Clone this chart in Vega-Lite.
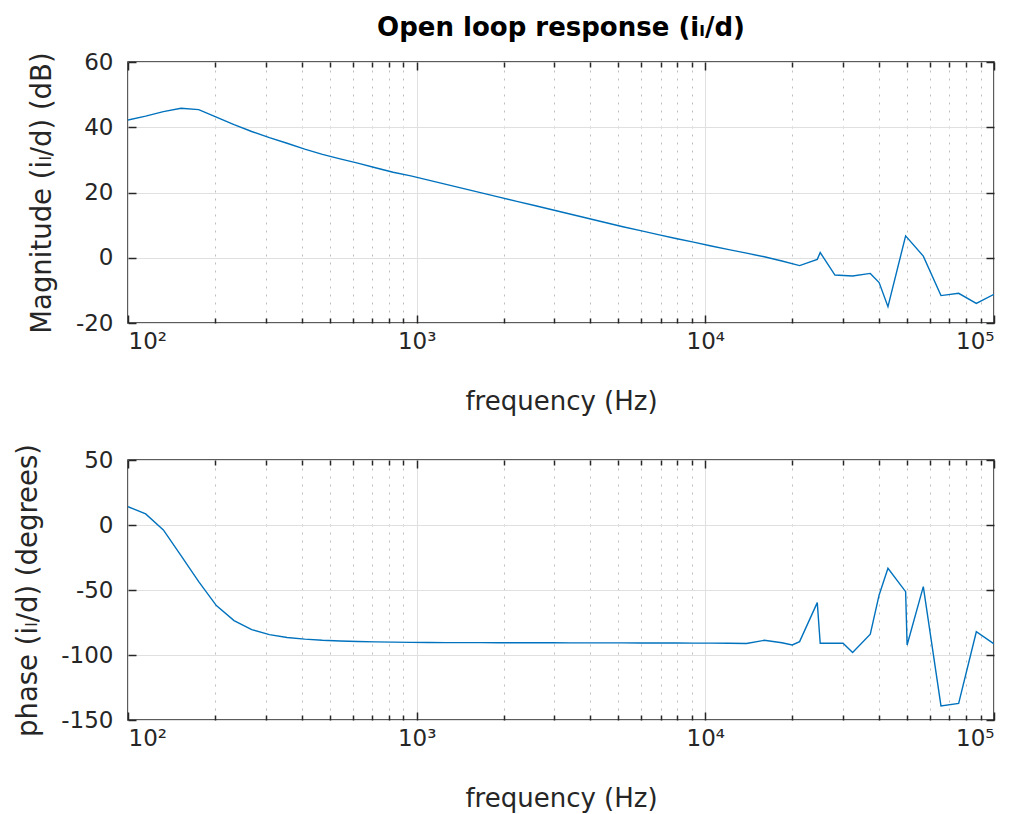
{
  "$schema": "https://vega.github.io/schema/vega-lite/v6.json",
  "autosize": {"type": "pad"},
  "padding": {"left": 14, "top": 15, "right": 5, "bottom": 2},
  "background": "white",
  "title": {"text": "Open loop response (i\u2097/d)", "fontSize": 26, "fontWeight": "bold", "font": "DejaVu Sans", "color": "#000000", "anchor": "middle", "frame": "group", "offset": 9},
  "bounds": "flush",
  "spacing": 137,
  "config": {
    "font": "DejaVu Sans",
    "view": {"stroke": "#262626", "strokeWidth": 1.5},
    "axis": {
      "labelFont": "DejaVu Sans", "labelFontSize": 23, "labelColor": "#262626",
      "titleFont": "DejaVu Sans", "titleFontSize": 26, "titleFontWeight": "normal", "titleColor": "#262626",
      "domain": false, "tickColor": "#262626", "tickWidth": 1.5,
      "gridColor": "#e0e0e0", "gridWidth": 1
    },
    "axisLeft": {"titleFontSize": 27.5}
  },
  "vconcat": [
    {
      "width": 866, "height": 261,
      "data": {"values": [
        {"f": 100, "mag": 42.2}, {"f": 115.14, "mag": 43.4}, {"f": 132.57, "mag": 44.8}, {"f": 152.65, "mag": 45.8},
        {"f": 175.75, "mag": 45.4}, {"f": 202.36, "mag": 43.1}, {"f": 232.99, "mag": 40.8}, {"f": 268.27, "mag": 38.7},
        {"f": 308.89, "mag": 36.8}, {"f": 355.65, "mag": 35.1}, {"f": 409.49, "mag": 33.3}, {"f": 471.49, "mag": 31.7},
        {"f": 542.86, "mag": 30.3}, {"f": 625.06, "mag": 29.0}, {"f": 719.69, "mag": 27.6}, {"f": 828.64, "mag": 26.2},
        {"f": 954.09, "mag": 25.1}, {"f": 1098.5, "mag": 23.8}, {"f": 1264.9, "mag": 22.5}, {"f": 1456.3, "mag": 21.2},
        {"f": 1676.8, "mag": 19.9}, {"f": 1930.7, "mag": 18.6}, {"f": 2223.0, "mag": 17.3}, {"f": 2559.5, "mag": 16.0},
        {"f": 2947.1, "mag": 14.7}, {"f": 3393.2, "mag": 13.4}, {"f": 3906.9, "mag": 12.1}, {"f": 4498.4, "mag": 10.8},
        {"f": 5179.5, "mag": 9.5}, {"f": 5963.6, "mag": 8.3}, {"f": 6866.5, "mag": 7.1}, {"f": 7906.0, "mag": 5.9},
        {"f": 9103.0, "mag": 4.8}, {"f": 10481, "mag": 3.6}, {"f": 12068, "mag": 2.5}, {"f": 13895, "mag": 1.4},
        {"f": 15999, "mag": 0.3}, {"f": 18421, "mag": -1.0}, {"f": 21210, "mag": -2.4}, {"f": 24421, "mag": -0.5},
        {"f": 25000, "mag": 1.6}, {"f": 28118, "mag": -5.3}, {"f": 32375, "mag": -5.6}, {"f": 37276, "mag": -4.8},
        {"f": 40000, "mag": -7.6}, {"f": 42919, "mag": -15.0}, {"f": 49417, "mag": 6.7}, {"f": 56899, "mag": 0.5},
        {"f": 65513, "mag": -11.6}, {"f": 75431, "mag": -10.9}, {"f": 86851, "mag": -14.0}, {"f": 100000, "mag": -11.2}
      ]},
      "layer": [
        {
          "mark": {"type": "line", "opacity": 0},
          "encoding": {
            "x": {"field": "f", "type": "quantitative", "scale": {"type": "log", "domain": [100, 100000], "nice": false},
              "axis": {"orient": "bottom", "values": [200,300,400,500,600,700,800,900,2000,3000,4000,5000,6000,7000,8000,9000,20000,30000,40000,50000,60000,70000,80000,90000], "labels": false, "title": null, "grid": true, "gridDash": [2, 6], "gridColor": "#bdbdbd", "tickSize": -5}},
            "y": {"field": "mag", "type": "quantitative", "scale": {"domain": [-20, 60], "nice": false},
              "axis": {"orient": "right", "values": [-20, 0, 20, 40, 60], "labels": false, "title": null, "grid": false, "tickSize": -8}}
          }
        },
        {
          "mark": {"type": "line", "opacity": 0},
          "encoding": {
            "x": {"field": "f", "type": "quantitative", "scale": {"type": "log", "domain": [100, 100000], "nice": false},
              "axis": {"orient": "top", "values": [200,300,400,500,600,700,800,900,2000,3000,4000,5000,6000,7000,8000,9000,20000,30000,40000,50000,60000,70000,80000,90000], "labels": false, "title": null, "grid": false, "tickSize": -5}},
            "y": {"field": "mag", "type": "quantitative", "axis": null}
          }
        },
        {
          "mark": {"type": "line", "opacity": 0},
          "encoding": {
            "x": {"field": "f", "type": "quantitative", "scale": {"type": "log", "domain": [100, 100000], "nice": false},
              "axis": {"orient": "top", "values": [100, 1000, 10000, 100000], "labels": false, "title": null, "grid": false, "tickSize": -8}},
            "y": {"field": "mag", "type": "quantitative", "axis": null}
          }
        },
        {
          "mark": {"type": "line", "color": "#0072BD", "strokeWidth": 1.4, "clip": true},
          "encoding": {
            "x": {"field": "f", "type": "quantitative", "scale": {"type": "log", "domain": [100, 100000], "nice": false},
              "axis": {"orient": "bottom", "values": [100, 1000, 10000, 100000], "labelExpr": "datum.value == 100 ? '10\u00b2' : datum.value == 1000 ? '10\u00b3' : datum.value == 10000 ? '10\u2074' : '10\u2075'", "title": "frequency (Hz)", "grid": true, "tickSize": -8, "labelPadding": 15, "titlePadding": 35}},
            "y": {"field": "mag", "type": "quantitative", "scale": {"domain": [-20, 60], "nice": false},
              "axis": {"orient": "left", "values": [-20, 0, 20, 40, 60], "labelExpr": "'' + datum.value", "title": "Magnitude (i\u2097/d) (dB)", "grid": true, "tickSize": -8, "labelPadding": 23, "titlePadding": 19}}
          }
        }
      ],
      "resolve": {"axis": {"x": "independent", "y": "independent"}}
    },
    {
      "width": 866, "height": 260,
      "data": {"values": [
        {"f": 100, "phase": 14.1}, {"f": 115.14, "phase": 8.5}, {"f": 132.57, "phase": -3.8}, {"f": 152.65, "phase": -23.5},
        {"f": 175.75, "phase": -43.5}, {"f": 202.36, "phase": -62.0}, {"f": 232.99, "phase": -73.5}, {"f": 268.27, "phase": -80.5},
        {"f": 308.89, "phase": -84.3}, {"f": 355.65, "phase": -86.5}, {"f": 409.49, "phase": -87.8}, {"f": 471.49, "phase": -88.7},
        {"f": 542.86, "phase": -89.2}, {"f": 625.06, "phase": -89.6}, {"f": 719.69, "phase": -89.9}, {"f": 828.64, "phase": -90.1},
        {"f": 954.09, "phase": -90.3}, {"f": 1098.5, "phase": -90.4}, {"f": 1264.9, "phase": -90.5}, {"f": 1456.3, "phase": -90.5},
        {"f": 1676.8, "phase": -90.5}, {"f": 1930.7, "phase": -90.6}, {"f": 2223.0, "phase": -90.6}, {"f": 2559.5, "phase": -90.6},
        {"f": 2947.1, "phase": -90.6}, {"f": 3393.2, "phase": -90.7}, {"f": 3906.9, "phase": -90.7}, {"f": 4498.4, "phase": -90.7},
        {"f": 5179.5, "phase": -90.7}, {"f": 5963.6, "phase": -90.8}, {"f": 6866.5, "phase": -90.8}, {"f": 7906.0, "phase": -90.8},
        {"f": 9103.0, "phase": -90.9}, {"f": 10481, "phase": -90.9}, {"f": 12068, "phase": -91.0}, {"f": 13895, "phase": -91.2},
        {"f": 15999, "phase": -88.7}, {"f": 18421, "phase": -90.6}, {"f": 20000, "phase": -92.3}, {"f": 21210, "phase": -89.7},
        {"f": 24421, "phase": -59.7}, {"f": 25000, "phase": -91.0}, {"f": 28118, "phase": -91.0}, {"f": 30000, "phase": -91.0},
        {"f": 32375, "phase": -98.0}, {"f": 37276, "phase": -84.0}, {"f": 40000, "phase": -53.8}, {"f": 42919, "phase": -33.3},
        {"f": 49417, "phase": -51.3}, {"f": 50000, "phase": -92.3}, {"f": 56899, "phase": -47.4}, {"f": 65513, "phase": -139.2},
        {"f": 75431, "phase": -137.2}, {"f": 86851, "phase": -82.1}, {"f": 100000, "phase": -91.5}
      ]},
      "layer": [
        {
          "mark": {"type": "line", "opacity": 0},
          "encoding": {
            "x": {"field": "f", "type": "quantitative", "scale": {"type": "log", "domain": [100, 100000], "nice": false},
              "axis": {"orient": "bottom", "values": [200,300,400,500,600,700,800,900,2000,3000,4000,5000,6000,7000,8000,9000,20000,30000,40000,50000,60000,70000,80000,90000], "labels": false, "title": null, "grid": true, "gridDash": [2, 6], "gridColor": "#bdbdbd", "tickSize": -5}},
            "y": {"field": "phase", "type": "quantitative", "scale": {"domain": [-150, 50], "nice": false},
              "axis": {"orient": "right", "values": [-150, -100, -50, 0, 50], "labels": false, "title": null, "grid": false, "tickSize": -8}}
          }
        },
        {
          "mark": {"type": "line", "opacity": 0},
          "encoding": {
            "x": {"field": "f", "type": "quantitative", "scale": {"type": "log", "domain": [100, 100000], "nice": false},
              "axis": {"orient": "top", "values": [200,300,400,500,600,700,800,900,2000,3000,4000,5000,6000,7000,8000,9000,20000,30000,40000,50000,60000,70000,80000,90000], "labels": false, "title": null, "grid": false, "tickSize": -5}},
            "y": {"field": "phase", "type": "quantitative", "axis": null}
          }
        },
        {
          "mark": {"type": "line", "opacity": 0},
          "encoding": {
            "x": {"field": "f", "type": "quantitative", "scale": {"type": "log", "domain": [100, 100000], "nice": false},
              "axis": {"orient": "top", "values": [100, 1000, 10000, 100000], "labels": false, "title": null, "grid": false, "tickSize": -8}},
            "y": {"field": "phase", "type": "quantitative", "axis": null}
          }
        },
        {
          "mark": {"type": "line", "color": "#0072BD", "strokeWidth": 1.4, "clip": true},
          "encoding": {
            "x": {"field": "f", "type": "quantitative", "scale": {"type": "log", "domain": [100, 100000], "nice": false},
              "axis": {"orient": "bottom", "values": [100, 1000, 10000, 100000], "labelExpr": "datum.value == 100 ? '10\u00b2' : datum.value == 1000 ? '10\u00b3' : datum.value == 10000 ? '10\u2074' : '10\u2075'", "title": "frequency (Hz)", "grid": true, "tickSize": -8, "labelPadding": 15, "titlePadding": 35}},
            "y": {"field": "phase", "type": "quantitative", "scale": {"domain": [-150, 50], "nice": false},
              "axis": {"orient": "left", "values": [-150, -100, -50, 0, 50], "labelExpr": "'' + datum.value", "title": "phase (i\u2097/d) (degrees)", "grid": true, "tickSize": -8, "labelPadding": 23, "titlePadding": 18}}
          }
        }
      ],
      "resolve": {"axis": {"x": "independent", "y": "independent"}}
    }
  ]
}
